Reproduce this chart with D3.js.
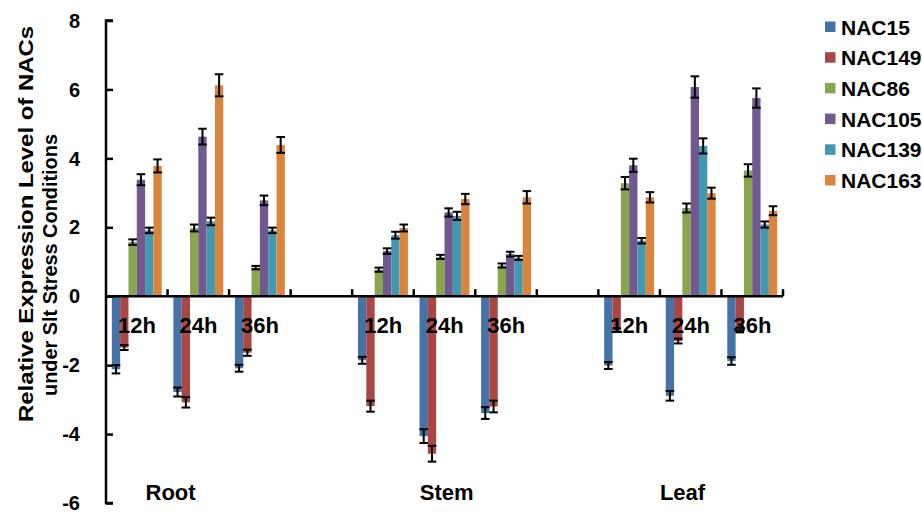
<!DOCTYPE html>
<html><head><meta charset="utf-8">
<script src="https://cdn.jsdelivr.net/npm/d3@7/dist/d3.min.js"></script>
<style>body{margin:0;background:#fff}svg{display:block}text{font-family:"Liberation Sans",Arial,sans-serif;font-weight:bold;fill:#000}</style>
</head><body><svg id="c" width="922" height="515"></svg>
<script>
// ---- data ----
const tissues = ["Root", "Stem", "Leaf"];
const times = ["12h", "24h", "36h"];
const seriesNames = ["NAC15", "NAC149", "NAC86", "NAC105", "NAC139", "NAC163"];
const colors = ["#4572A7", "#AA4643", "#89A54E", "#71588F", "#4198AF", "#DB843D"];
// order: Root 12h,24h,36h, Stem 12h,24h,36h, Leaf 12h,24h,36h
const nac15  = [-2.12, -2.78, -2.09, -1.86, -4.06, -3.39, -2.01, -2.89, -1.88];
const nac149 = [-1.49, -3.08, -1.64, -3.19, -4.57, -3.20, -0.98, -1.30, -0.98];
const nac86  = [1.57, 1.98, 0.83, 0.77, 1.14, 0.89, 3.28, 2.56, 3.65];
const nac105 = [3.38, 4.63, 2.78, 1.31, 2.43, 1.22, 3.80, 6.07, 5.75];
const nac139 = [1.91, 2.17, 1.91, 1.77, 2.33, 1.11, 1.61, 4.36, 2.08];
const nac163 = [3.78, 6.12, 4.39, 1.98, 2.82, 2.87, 2.87, 2.99, 2.48];
const err15  = [0.12, 0.13, 0.10, 0.10, 0.20, 0.17, 0.10, 0.14, 0.11];
const err149 = [0.07, 0.15, 0.09, 0.16, 0.23, 0.17, 0.05, 0.07, 0.07];
const err86  = [0.08, 0.10, 0.05, 0.06, 0.06, 0.06, 0.18, 0.13, 0.18];
const err105 = [0.16, 0.23, 0.14, 0.08, 0.12, 0.07, 0.19, 0.31, 0.28];
const err139 = [0.08, 0.11, 0.08, 0.10, 0.12, 0.06, 0.08, 0.22, 0.09];
const err163 = [0.19, 0.32, 0.23, 0.10, 0.15, 0.18, 0.15, 0.16, 0.13];
const yTicks = [-6, -4, -2, 0, 2, 4, 6, 8];
const yTitle = ["Relative Expression Level of NACs", "under Slt Stress Conditions"];

const values = [nac15, nac149, nac86, nac105, nac139, nac163];
const errors = [err15, err149, err86, err105, err139, err163];

// 11 category slots: 3 per tissue + empty slot between tissues
const slots = d3.range(11);
const slotOf = (ti, hi) => ti * 4 + hi;

const svg = d3.select("#c");
const y = d3.scaleLinear().domain([-6, 8]).range([503, 20.5]);
const x = d3.scaleBand().domain(slots).range([106, 783]).padding(0);
const xi = d3.scaleBand().domain(seriesNames).range([0, x.bandwidth()]).paddingInner(0).paddingOuter(0.7);

const recs = [];
tissues.forEach((t, ti) => times.forEach((h, hi) => {
  const k = ti * 3 + hi;
  seriesNames.forEach((s, si) => recs.push({slot: slotOf(ti, hi), s, si, v: values[si][k], e: errors[si][k]}));
}));

// bars
svg.append("g").selectAll("rect").data(recs).join("rect")
  .attr("x", d => x(d.slot) + xi(d.s))
  .attr("width", xi.bandwidth())
  .attr("y", d => y(Math.max(0, d.v)))
  .attr("height", d => Math.abs(y(d.v) - y(0)))
  .attr("fill", d => colors[d.si]);

// error bars
const eg = svg.append("g").attr("stroke", "#000").attr("stroke-width", 2);
recs.forEach(d => {
  const cx = x(d.slot) + xi(d.s) + xi.bandwidth() / 2;
  const cw = 4.3;
  eg.append("line").attr("x1", cx).attr("x2", cx).attr("y1", y(d.v - d.e)).attr("y2", y(d.v + d.e));
  eg.append("line").attr("x1", cx - cw).attr("x2", cx + cw).attr("y1", y(d.v - d.e)).attr("y2", y(d.v - d.e));
  eg.append("line").attr("x1", cx - cw).attr("x2", cx + cw).attr("y1", y(d.v + d.e)).attr("y2", y(d.v + d.e));
});

// y axis
const ya = svg.append("g").attr("transform", "translate(106,0)")
  .call(d3.axisRight(y).tickValues(yTicks).tickSize(7).tickFormat(""));
ya.select(".domain").attr("d", `M7,${y(8)}H0V${y(-6)}H7`).attr("stroke-width", 2.5).attr("fill", "none");
ya.selectAll(".tick line").attr("stroke-width", 2.5);
svg.append("g").selectAll("text").data(yTicks).join("text")
  .attr("x", 80).attr("y", d => y(d)).attr("dy", "0.36em").attr("text-anchor", "end")
  .attr("font-size", 20).text(d => d);

// x axis at zero
const xa = svg.append("g").attr("transform", `translate(0,${y(0)})`);
xa.append("line").attr("x1", 106).attr("x2", 783).attr("stroke", "#000").attr("stroke-width", 2.5);
xa.selectAll(".tk").data(slots).join("line").attr("class", "tk")
  .attr("x1", d => x(d) + x.bandwidth()).attr("x2", d => x(d) + x.bandwidth())
  .attr("y1", 0).attr("y2", -7).attr("stroke", "#000").attr("stroke-width", 2.5);

// time labels
tissues.forEach((t, ti) => times.forEach((h, hi) => {
  svg.append("text").attr("x", x(slotOf(ti, hi)) + 12).attr("y", 333)
    .attr("font-size", 22).text(h);
}));

// tissue labels
const tissueOffsets = [-22, 6, 0];
tissues.forEach((t, ti) => {
  svg.append("text").attr("x", x(slotOf(ti, 1)) + tissueOffsets[ti]).attr("y", 500)
    .attr("font-size", 22).text(t);
});

// y title
svg.append("text").attr("transform", "translate(33,224) rotate(-90)").attr("text-anchor", "middle")
  .attr("font-size", 21).attr("textLength", 396).attr("lengthAdjust", "spacingAndGlyphs").text(yTitle[0]);
svg.append("text").attr("transform", "translate(57,265) rotate(-90)").attr("text-anchor", "middle")
  .attr("font-size", 21).attr("textLength", 262).attr("lengthAdjust", "spacingAndGlyphs").text(yTitle[1]);

// legend
const lg = svg.append("g").selectAll("g").data(seriesNames).join("g")
  .attr("transform", (d, i) => `translate(825,${27 + i * 30.7})`);
lg.append("rect").attr("x", 0).attr("y", -5.5).attr("width", 10.5).attr("height", 10.5).attr("fill", (d, i) => colors[i]);
lg.append("text").attr("x", 16).attr("dy", "0.36em").attr("font-size", 21).text(d => d);
</script></body></html>
